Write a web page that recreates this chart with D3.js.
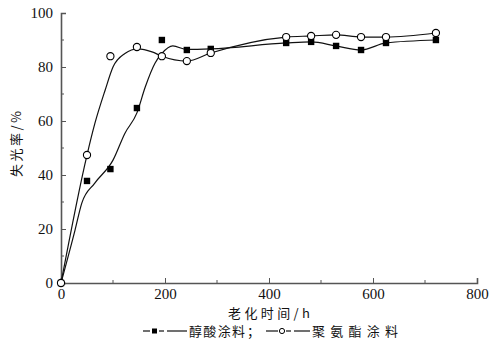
<!DOCTYPE html>
<html><head><meta charset="utf-8">
<script src="https://cdn.jsdelivr.net/npm/d3@7"></script>
<style>body{margin:0;background:#fff}svg{display:block}</style>
</head><body>
<script>
// Data
const hours = [0, 50, 95, 146, 194, 242, 288, 433, 481, 529, 577, 625, 721];
const alkyd = [0, 37.8, 42.2, 64.8, 90, 86.3, 86.7, 88.9, 89.3, 87.8, 86.3, 88.9, 90];
const pu = [0, 47.4, 84, 87.4, 84, 82.2, 85.2, 91.1, 91.5, 91.9, 91.1, 91.1, 92.6];
// fitted curves as drawn in the picture
const alkydCurveX = [0, 27, 40, 65, 100, 123, 146, 162, 181, 194, 215, 242, 288, 433, 481, 529, 577, 625, 721];
const alkydCurveY = [0, 19.6, 29.6, 37, 45.5, 55.5, 63, 72.6, 81.5, 85, 87.8, 86.5, 86.7, 88.9, 89.3, 87.8, 86.3, 88.9, 90];
const puCurveX = [0, 50, 65, 85, 100, 123, 148, 175, 194, 242, 288, 433, 481, 529, 577, 625, 721];
const puCurveY = [0, 47.4, 59, 71.5, 80, 85, 86.7, 85.6, 84, 82.2, 85.2, 91.1, 91.5, 91.9, 91.1, 91.1, 92.6];
const xTicks = [0, 200, 400, 600, 800];
const yTicks = [0, 20, 40, 60, 80, 100];
const xLabel = "老化时间/h";
const yLabel = "失光率/%";
const legendNames = ["醇酸涂料", "聚氨酯涂料"];

const W = 499, H = 352;
const svg = d3.select("body").append("svg").attr("width", W).attr("height", H);
const x = d3.scaleLinear().domain([0, 800]).range([61, 477]);
const y = d3.scaleLinear().domain([0, 100]).range([283, 13]);
const serif = "'Liberation Serif','Times New Roman',serif";
const cjk = "'Noto Sans CJK SC','Liberation Serif',serif";

// axes (ticks pointing inward)
const axisColor = "#555";
const gx = svg.append("g").attr("transform", `translate(0,${y(0)})`)
  .call(d3.axisBottom(x).tickValues(xTicks).tickSize(-5).tickPadding(5).tickFormat(d3.format("d")));
const gy = svg.append("g").attr("transform", `translate(${x(0)},0)`)
  .call(d3.axisLeft(y).tickValues(yTicks).tickSize(-5).tickPadding(8).tickFormat(d3.format("d")));
[gx, gy].forEach(g => {
  g.select(".domain").attr("stroke", axisColor).attr("stroke-width", 1.6);
  g.selectAll(".tick line").attr("stroke", axisColor).attr("stroke-width", 1);
  g.selectAll(".tick text").attr("font-family", serif).attr("font-size", 15).attr("fill", "#111");
});
// minor ticks
const xMinor = d3.range(100, 800, 200);
const yMinor = d3.range(10, 100, 20);
svg.append("g").selectAll("line").data(xMinor).join("line")
  .attr("x1", d => x(d)).attr("x2", d => x(d)).attr("y1", y(0)).attr("y2", y(0) - 3)
  .attr("stroke", axisColor);
svg.append("g").selectAll("line").data(yMinor).join("line")
  .attr("x1", x(0)).attr("x2", x(0) + 3).attr("y1", d => y(d)).attr("y2", d => y(d))
  .attr("stroke", axisColor);

// curves
const line = d3.line().x(d => x(d[0])).y(d => y(d[1])).curve(d3.curveMonotoneX);
svg.append("path").datum(d3.zip(alkydCurveX, alkydCurveY)).attr("d", line)
  .attr("fill", "none").attr("stroke", "#111").attr("stroke-width", 1.2);
svg.append("path").datum(d3.zip(puCurveX, puCurveY)).attr("d", line)
  .attr("fill", "none").attr("stroke", "#111").attr("stroke-width", 1.2);

// markers
svg.append("g").selectAll("rect").data(d3.zip(hours, alkyd)).join("rect")
  .attr("x", d => x(d[0]) - 3.2).attr("y", d => y(d[1]) - 3.2)
  .attr("width", 6.4).attr("height", 6.4).attr("fill", "#000");
svg.append("g").selectAll("circle").data(d3.zip(hours, pu)).join("circle")
  .attr("cx", d => x(d[0])).attr("cy", d => y(d[1])).attr("r", 3.6)
  .attr("fill", "#fff").attr("stroke", "#000").attr("stroke-width", 1.1);

// axis titles
svg.append("text").attr("x", 269).attr("y", 318).attr("text-anchor", "middle")
  .attr("font-family", cjk).attr("font-size", 13).attr("fill", "#111")
  .attr("textLength", 82).attr("lengthAdjust", "spacing").text(xLabel);
svg.append("text").attr("transform", "translate(21,144) rotate(-90)").attr("text-anchor", "middle")
  .attr("font-family", cjk).attr("font-size", 13).attr("fill", "#111")
  .attr("textLength", 66).attr("lengthAdjust", "spacing").text(yLabel);

// legend
const lg = svg.append("g").attr("stroke", "#111").attr("stroke-width", 1.2);
const ly = 331;
lg.append("line").attr("x1", 143).attr("x2", 150).attr("y1", ly).attr("y2", ly);
lg.append("line").attr("x1", 159).attr("x2", 164).attr("y1", ly).attr("y2", ly);
lg.append("line").attr("x1", 167).attr("x2", 187).attr("y1", ly).attr("y2", ly);
svg.append("rect").attr("x", 152).attr("y", ly - 2.5).attr("width", 5).attr("height", 5).attr("fill", "#000");
svg.append("text").attr("x", 189).attr("y", ly + 5).attr("font-family", cjk).attr("font-size", 13)
  .attr("fill", "#111").attr("textLength", 56).attr("lengthAdjust", "spacing").text(legendNames[0]);
svg.append("text").attr("x", 247).attr("y", ly + 5).attr("font-family", cjk).attr("font-size", 13)
  .attr("fill", "#111").text("；");
lg.append("line").attr("x1", 266).attr("x2", 278).attr("y1", ly).attr("y2", ly);
lg.append("line").attr("x1", 286).attr("x2", 291).attr("y1", ly).attr("y2", ly);
lg.append("line").attr("x1", 294).attr("x2", 310).attr("y1", ly).attr("y2", ly);
svg.append("circle").attr("cx", 282).attr("cy", ly).attr("r", 2.6).attr("fill", "#fff")
  .attr("stroke", "#000").attr("stroke-width", 1);
svg.append("text").attr("x", 312).attr("y", ly + 5).attr("font-family", cjk).attr("font-size", 13)
  .attr("fill", "#111").attr("textLength", 86).attr("lengthAdjust", "spacing").text(legendNames[1]);
</script>
</body></html>
